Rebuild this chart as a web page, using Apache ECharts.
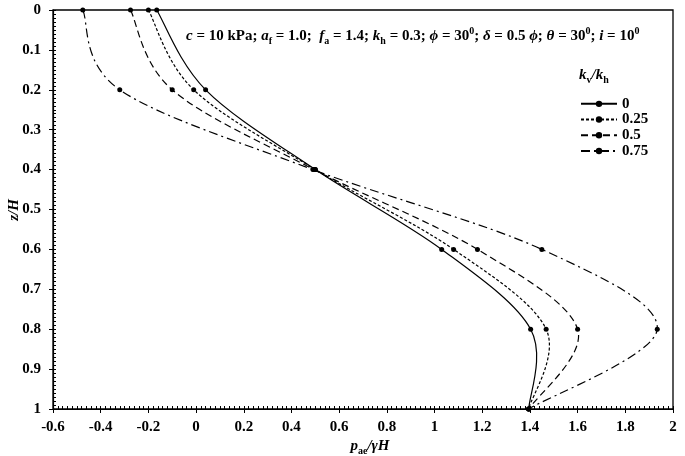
<!DOCTYPE html>
<html>
<head>
<meta charset="utf-8">
<script src="https://cdn.jsdelivr.net/npm/echarts@6/dist/echarts.min.js"></script>
<style>html,body{margin:0;padding:0;background:#fff;}#c{width:685px;height:456px;}</style>
</head>
<body>
<div id="c"></div>
<script>
// depth levels z/H
var zLevels = [0, 0.2, 0.4, 0.6, 0.8, 1];
// p_ae / gamma H for each kv/kh
var seriesNames = ['0', '0.25', '0.5', '0.75'];
var kv0   = [-0.165, 0.04, 0.50, 1.03, 1.403, 1.395];
var kv025 = [-0.20, -0.01, 0.50, 1.08, 1.468, 1.395];
var kv05  = [-0.275, -0.10, 0.495, 1.18, 1.60, 1.395];
var kv075 = [-0.475, -0.32, 0.49, 1.45, 1.934, 1.395];
var xTicks = { min: -0.6, max: 2, interval: 0.2 };
var yTicks = { min: 0, max: 1, interval: 0.1 };

var FONT = 'Liberation Serif';
var dashes = ['solid', [3, 2], [7, 4], [9, 4, 2, 4]];
var values = [kv0, kv025, kv05, kv075];

function pairs(xs) { return xs.map(function (v, i) { return [v, zLevels[i]]; }); }

var rich = {
  n: { fontFamily: FONT, fontWeight: 'bold', fontSize: 15, lineHeight: 20, color: '#000' },
  i: { fontFamily: FONT, fontWeight: 'bold', fontStyle: 'italic', fontSize: 15, lineHeight: 20, color: '#000' },
  sub: { fontFamily: FONT, fontWeight: 'bold', fontSize: 10, lineHeight: 20, verticalAlign: 'bottom', color: '#000' },
  sup: { fontFamily: FONT, fontWeight: 'bold', fontSize: 10, lineHeight: 20, verticalAlign: 'top', color: '#000' }
};

// Smoothed curve (spreadsheet-style Bezier smoothing) drawn through the data points via the axis scales
function makeCurveRenderer(vals, dash) {
  return function (params, api) {
    if (params.dataIndex !== 0) return null;
    var p = vals.map(function (v, i) { return api.coord([v, zLevels[i]]); });
    var n = p.length;
    var d = 'M' + p[0][0] + ' ' + p[0][1];
    for (var i = 0; i < n - 1; i++) {
      var p0 = p[Math.max(i - 1, 0)], p1 = p[i], p2 = p[i + 1], p3 = p[Math.min(i + 2, n - 1)];
      var c1x = p1[0] + (p2[0] - p0[0]) / 6, c1y = p1[1] + (p2[1] - p0[1]) / 6;
      var c2x = p2[0] - (p3[0] - p1[0]) / 6, c2y = p2[1] - (p3[1] - p1[1]) / 6;
      d += ' C' + c1x + ' ' + c1y + ' ' + c2x + ' ' + c2y + ' ' + p2[0] + ' ' + p2[1];
    }
    return {
      type: 'path',
      shape: { pathData: d },
      style: { fill: null, stroke: '#000', lineWidth: 1.2, lineDash: dash === 'solid' ? null : dash }
    };
  };
}

var series = [];
values.forEach(function (vals, k) {
  series.push({
    name: seriesNames[k] + '_curve',
    type: 'custom',
    coordinateSystem: 'cartesian2d',
    xAxisIndex: 0, yAxisIndex: 0,
    data: pairs(vals),
    encode: { x: 0, y: 1 },
    renderItem: makeCurveRenderer(vals, dashes[k]),
    silent: true,
    z: 3
  });
  series.push({
    name: seriesNames[k],
    type: 'line',
    xAxisIndex: 0, yAxisIndex: 0,
    data: pairs(vals),
    symbol: 'circle',
    symbolSize: 5,
    itemStyle: { color: '#000' },
    lineStyle: { color: '#000', width: 1.2, type: dashes[k], opacity: 0 },
    z: 6
  });
});

var tickLabel = { color: '#000', fontFamily: FONT, fontWeight: 'bold', fontSize: 15 };

var chart = echarts.init(document.getElementById('c'), null, { renderer: 'canvas' });
chart.setOption({
  animation: false,
  backgroundColor: '#fff',
  grid: [
    { left: 53, right: 12, top: 10, bottom: 47, show: true, borderColor: '#000', borderWidth: 1.3, containLabel: false },
    { left: 53, right: 12, top: 10, bottom: 47, show: false, containLabel: false }
  ],
  xAxis: [
    {
      type: 'value', gridIndex: 0, position: 'bottom',
      min: xTicks.min, max: xTicks.max, interval: xTicks.interval,
      axisLine: { show: true, onZero: false, lineStyle: { color: '#000', width: 1.2 } },
      axisTick: { show: true, inside: false, length: 4, lineStyle: { color: '#000' } },
      axisLabel: Object.assign({ margin: 11 }, tickLabel),
      splitLine: { show: false }
    },
    {
      type: 'value', gridIndex: 1, position: 'bottom',
      min: xTicks.min, max: xTicks.max, interval: 0.02,
      axisLine: { show: false, onZero: false },
      axisTick: { show: true, inside: true, length: 3, lineStyle: { color: '#000' } },
      axisLabel: { show: false },
      splitLine: { show: false }
    }
  ],
  yAxis: [
    {
      type: 'value', gridIndex: 0, position: 'left', inverse: true,
      min: yTicks.min, max: yTicks.max, interval: yTicks.interval,
      axisLine: { show: true, onZero: false, lineStyle: { color: '#000', width: 1.2 } },
      axisTick: { show: true, inside: false, length: 4, lineStyle: { color: '#000' } },
      axisLabel: Object.assign({ margin: 12 }, tickLabel),
      splitLine: { show: false }
    },
    {
      type: 'value', gridIndex: 1, position: 'left', inverse: true,
      min: yTicks.min, max: yTicks.max, interval: 0.01,
      axisLine: { show: false, onZero: false },
      axisTick: { show: true, inside: true, length: 3, lineStyle: { color: '#000' } },
      axisLabel: { show: false },
      splitLine: { show: false }
    }
  ],
  legend: {
    orient: 'vertical',
    left: 580, top: 96, padding: 0,
    itemWidth: 36, itemHeight: 8, itemGap: 0,
    textStyle: { color: '#000', fontFamily: FONT, fontWeight: 'bold', fontSize: 15, lineHeight: 15.7 },
    data: seriesNames.map(function (nm) { return { name: nm, lineStyle: { opacity: 1 } }; })
  },
  graphic: [
    {
      type: 'text', left: 186, top: 26, z: 20,
      style: {
        text: '{i|c}{n| = 10 kPa; }{i|a}{sub|f}{n| = 1.0;  }{i|f}{sub|a}{n| = 1.4; }{i|k}{sub|h}{n| = 0.3; }{i|ϕ}{n| = 30}{sup|0}{n|; }{i|δ}{n| = 0.5 }{i|ϕ}{n|; }{i|θ}{n| = 30}{sup|0}{n|; }{i|i}{n| = 10}{sup|0}',
        rich: rich
      }
    },
    {
      type: 'text', left: 579, top: 68, z: 20,
      style: { text: '{i|k}{sub|v}{i|/k}{sub|h}', rich: rich }
    },
    {
      type: 'text', x: 14, y: 210, rotation: Math.PI / 2, z: 20,
      style: { text: '{i|z/H}', rich: rich, align: 'center', verticalAlign: 'middle' }
    },
    {
      type: 'text', x: 370, y: 446, z: 20,
      style: { text: '{i|p}{sub|ae}{i|/γH}', rich: rich, align: 'center', verticalAlign: 'middle' }
    }
  ],
  series: series
});
</script>
</body>
</html>
